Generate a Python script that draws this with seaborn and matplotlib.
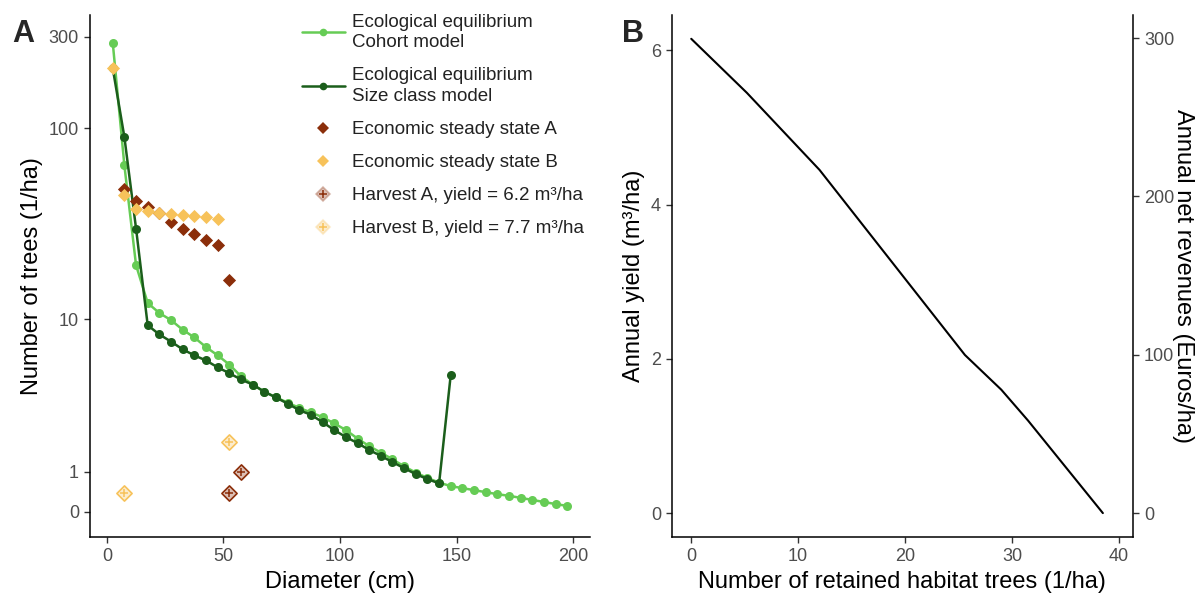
import numpy as np
import pandas as pd
import matplotlib
matplotlib.use("Agg")
from matplotlib import pyplot as plt
from matplotlib.lines import Line2D
import seaborn as sns

# diameter classes (cm)
diam_cohort = [2.5, 7.5, 12.5, 17.5, 22.5, 27.5, 32.5, 37.5, 42.5, 47.5,
               52.5, 57.5, 62.5, 67.5, 72.5, 77.5, 82.5, 87.5, 92.5, 97.5,
               102.5, 107.5, 112.5, 117.5, 122.5, 127.5, 132.5, 137.5, 142.5, 147.5,
               152.5, 157.5, 162.5, 167.5, 172.5, 177.5, 182.5, 187.5, 192.5, 197.5]
trees_cohort = [280, 64, 19.3, 12.2, 10.8, 9.9, 8.8, 8.0, 7.1, 6.4,
                5.7, 4.9, 4.4, 4.0, 3.7, 3.45, 3.2, 3.0, 2.8, 2.55,
                2.3, 2.0, 1.75, 1.55, 1.35, 1.15, 0.98, 0.84, 0.72, 0.63,
                0.58, 0.53, 0.48, 0.43, 0.39, 0.34, 0.29, 0.24, 0.19, 0.145]

diam_size = diam_cohort[:30]
trees_size = [206, 90, 30, 9.3, 8.3, 7.6, 6.9, 6.4, 6.0, 5.5,
              5.1, 4.7, 4.4, 4.0, 3.7, 3.4, 3.1, 2.9, 2.6, 2.3,
              2.05, 1.85, 1.63, 1.45, 1.27, 1.1, 0.94, 0.81, 0.70, 5.0]

diam_econ_a = [7.5, 12.5, 17.5, 22.5, 27.5, 32.5, 37.5, 42.5, 47.5, 52.5]
trees_econ_a = [48, 42, 39, 36, 32.5, 30, 28, 26, 24.7, 16.2]
diam_econ_b = [2.5, 7.5, 12.5, 17.5, 22.5, 27.5, 32.5, 37.5, 42.5, 47.5]
trees_econ_b = [206, 45, 38, 37, 36, 35.8, 35.3, 35, 34.3, 33.7]

diam_harv_a = [52.5, 57.5]
trees_harv_a = [0.46, 1.0]
diam_harv_b = [7.5, 52.5]
trees_harv_b = [0.46, 1.9]

# panel B
habitat_trees = [0, 5.2, 12, 25.6, 29, 31.5, 38.5]
annual_yield = [6.15, 5.45, 4.45, 2.05, 1.6, 1.2, 0.0]
revenue_per_m3 = 48.7

c_cohort = "#66CC55"
c_size = "#1B5E1B"
c_a = "#8B2E0A"
c_b = "#F7C25A"

sns.set_theme(style="ticks")
plt.rcParams["font.family"] = ["Liberation Sans", "DejaVu Sans"]
plt.rcParams["axes.edgecolor"] = "black"
plt.rcParams["axes.linewidth"] = 1.1
plt.rcParams["xtick.color"] = "#333333"
plt.rcParams["ytick.color"] = "#333333"
plt.rcParams["xtick.labelcolor"] = "#4D4D4D"
plt.rcParams["ytick.labelcolor"] = "#4D4D4D"

fig = plt.figure(figsize=(12, 5.96), dpi=100)
ax = fig.add_axes([0.075, 0.099, 0.4167, 0.876])
ax2 = fig.add_axes([0.56, 0.099, 0.384, 0.876])

# ---- panel A
ax.set_yscale("function", functions=(lambda v: np.arcsinh(v / 2), lambda t: 2 * np.sinh(t)))

df_c = pd.DataFrame({"d": diam_cohort, "n": trees_cohort})
df_s = pd.DataFrame({"d": diam_size, "n": trees_size})
sns.lineplot(data=df_c, x="d", y="n", color=c_cohort, marker="o", markersize=6.5,
             markeredgewidth=0, linewidth=1.8, ax=ax)
sns.lineplot(data=df_s, x="d", y="n", color=c_size, marker="o", markersize=6.5,
             markeredgewidth=0, linewidth=1.8, ax=ax)

df_a = pd.DataFrame({"d": diam_econ_a, "n": trees_econ_a})
df_b = pd.DataFrame({"d": diam_econ_b, "n": trees_econ_b})
sns.scatterplot(data=df_a, x="d", y="n", color=c_a, marker="D", s=45, linewidth=0, ax=ax, zorder=3)
sns.scatterplot(data=df_b, x="d", y="n", color=c_b, marker="D", s=45, linewidth=0, ax=ax, zorder=3)

for dx, ny, col in [(diam_harv_a, trees_harv_a, c_a), (diam_harv_b, trees_harv_b, c_b)]:
    dfh = pd.DataFrame({"d": dx, "n": ny})
    sns.scatterplot(data=dfh, x="d", y="n", marker="D", s=60, facecolor=matplotlib.colors.to_rgba(col, 0.3),
                    edgecolor=col, linewidth=1.2, ax=ax, zorder=3)
    sns.scatterplot(data=dfh, x="d", y="n", marker="+", s=40, color=col, linewidth=1.1, ax=ax, zorder=3)

ax.set_xlim(-7.25, 207.25)
ax.set_ylim(-0.61, 390)
ax.set_xticks([0, 50, 100, 150, 200])
ax.set_yticks([0, 1, 10, 100, 300])
ax.set_yticklabels(["0", "1", "10", "100", "300"])
ax.minorticks_off()
ax.tick_params(labelsize=13, length=4.5, width=1)
ax.set_xlabel("Diameter (cm)", fontsize=17, color="black")
ax.set_ylabel("Number of trees (1/ha)", fontsize=17, color="black")
sns.despine(ax=ax)

handles = [
    Line2D([], [], color=c_cohort, marker="o", lw=1.8, ms=5.5, mew=0),
    Line2D([], [], color=c_size, marker="o", lw=1.8, ms=5.5, mew=0),
    Line2D([], [], color=c_a, marker="D", lw=0, ms=6, mew=0),
    Line2D([], [], color=c_b, marker="D", lw=0, ms=6, mew=0),
    (Line2D([], [], color=c_a, marker="D", lw=0, ms=7, mfc=matplotlib.colors.to_rgba(c_a, 0.3), mew=1.2),
     Line2D([], [], color=c_a, marker="+", lw=0, ms=6, mew=1.1)),
    (Line2D([], [], color=c_b, marker="D", lw=0, ms=7, mfc=matplotlib.colors.to_rgba(c_b, 0.3), mew=1.2),
     Line2D([], [], color=c_b, marker="+", lw=0, ms=6, mew=1.1)),
]
labels = [
    "Ecological equilibrium\nCohort model",
    "Ecological equilibrium\nSize class model",
    "Economic steady state A",
    "Economic steady state B",
    "Harvest A, yield = 6.2 m³/ha",
    "Harvest B, yield = 7.7 m³/ha",
]
leg = ax.legend(handles, labels, loc="upper left", bbox_to_anchor=(0.39, 1.035), frameon=False,
                fontsize=13.5, handlelength=2.3, labelspacing=0.85, handletextpad=0.35)
for t in leg.get_texts():
    t.set_color("#222222")
    t.set_linespacing(1.3)

# ---- panel B
df_y = pd.DataFrame({"h": habitat_trees, "y": annual_yield})
sns.lineplot(data=df_y, x="h", y="y", color="black", linewidth=1.5, ax=ax2)
ax2.set_xlim(-1.8, 41.3)
ax2.set_ylim(-0.31, 6.46)
ax2.set_xticks([0, 10, 20, 30, 40])
ax2.set_yticks([0, 2, 4, 6])
ax2.tick_params(labelsize=13, length=4.5, width=1)
ax2.set_xlabel("Number of retained habitat trees (1/ha)", fontsize=17, color="black")
ax2.set_ylabel("Annual yield (m³/ha)", fontsize=17, color="black")
sns.despine(ax=ax2, right=False)
ax2.spines["right"].set_visible(False)
sec = ax2.secondary_yaxis("right", functions=(lambda y: y * revenue_per_m3, lambda r: r / revenue_per_m3))
sec.set_yticks([0, 100, 200, 300])
sec.tick_params(labelsize=13, length=4.5, width=1)
sec.spines["right"].set_linewidth(1.1)
sec.set_ylabel("Annual net revenues (Euros/ha)", fontsize=17, rotation=270, labelpad=14, color="black")

fig.text(0.01, 0.93, "A", fontsize=22, fontweight="bold")
fig.text(0.518, 0.93, "B", fontsize=22, fontweight="bold")

fig.savefig("out.png", dpi=100)
